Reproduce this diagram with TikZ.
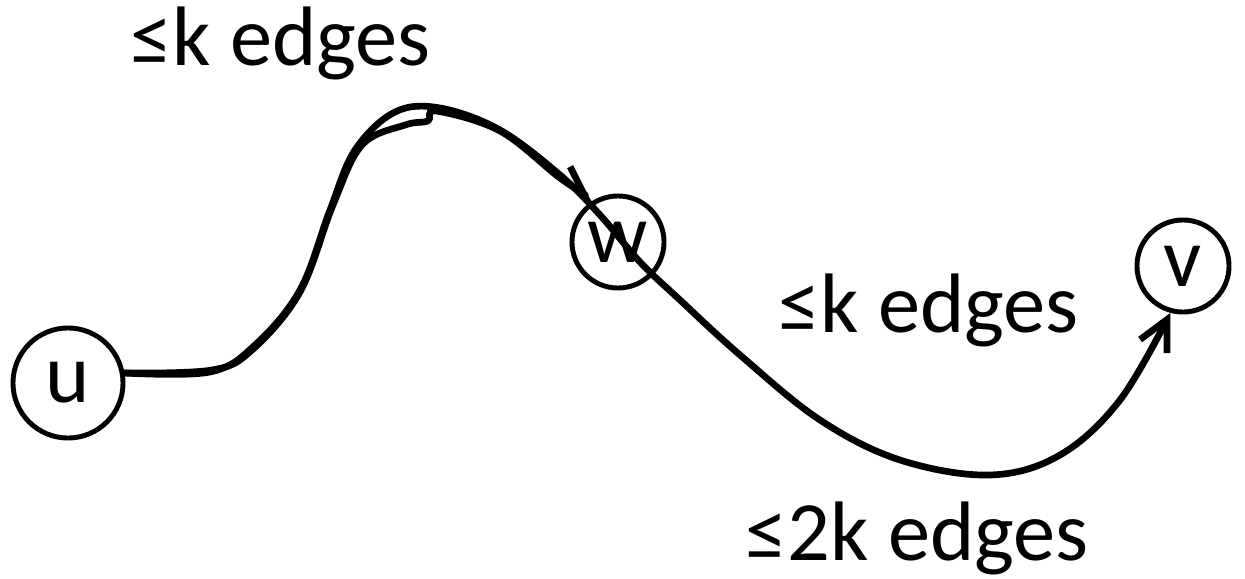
\documentclass[tikz,border=0pt]{standalone}
\usepackage{fontspec}
\setmainfont{Carlito}
\usetikzlibrary{arrows.meta}
\begin{document}
\begin{tikzpicture}[font=\fontsize{24}{29}\selectfont, line join=round, line cap=round, x=0.01cm, y=-0.01cm,
    vertex/.style={draw, circle, line width=1.4pt, inner sep=0pt},
    walk/.style={line width=1.9pt},
    >={Straight Barb[length=3mm,width=3mm]}]
    \useasboundingbox (0,0) rectangle (1245,579);
    \node[vertex, minimum size=1.1cm] (u) at (68,383) {u};
    \node[vertex, minimum size=0.92cm] (w) at (618,242) {w};
    \node[vertex, minimum size=0.92cm] (v) at (1183,266) {v};
    \node[anchor=base west, inner sep=0pt] (kfirst) at (130,66) {≤k edges};
    \node[anchor=base west, inner sep=0pt] (ksecond) at (778,333) {≤k edges};
    \node[anchor=base west, inner sep=0pt] (twok) at (745,560) {≤2k edges};
    % u to w
    \draw[walk, -{Straight Barb[harpoon,length=2.6mm,width=3.4mm]}] plot[smooth, tension=0.6] coordinates {(u.10) (212,370) (252,350) (300,292) (333,205) (362,145) (405,125) (428,121) (436,111) (500,131) (560,178) (w.120)};
    % u to v through w
    \draw[walk, ->] plot[smooth, tension=0.6] coordinates {(u.10) (210,372) (255,345) (300,290) (330,210) (355,150) (395,112) (440,108) (500,130) (560,175) (600,215) (640,262) (680,300) (740,355) (820,420) (900,460) (990,475) (1060,455) (1120,400) (v.255)};
\end{tikzpicture}
\end{document}
